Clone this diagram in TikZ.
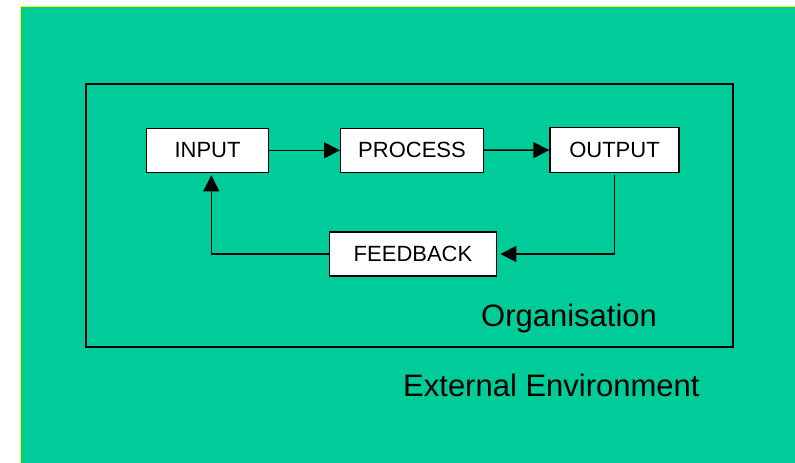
\documentclass[tikz,border=0pt]{standalone}
\usepackage{fontspec}
\setmainfont{Liberation Sans}
\usetikzlibrary{arrows.meta}
\definecolor{bg}{RGB}{0,204,153}
\definecolor{edge}{RGB}{255,255,0}
\begin{document}
\begin{tikzpicture}[x=1pt,y=-1pt,
  box/.style={draw=black,line width=1.4pt,fill=white,inner sep=0pt,font=\fontsize{22}{26}\selectfont},
  conn/.style={line width=1.4pt,-{Triangle[length=16pt,width=16pt]}},
  plain/.style={line width=1.4pt},
  big/.style={font=\fontsize{31}{36}\selectfont,inner sep=0pt,anchor=base west}]
\useasboundingbox (0,0) rectangle (795,463);
\fill[bg] (21,7) rectangle (795,463);
\draw[edge,line width=1.2pt] (20.6,463) -- (20.6,6.6) -- (795,6.6);
\draw[line width=1.6pt] (86,84) rectangle (733,347);
\node[box,minimum width=121.6pt,minimum height=44pt] (in) at (207.5,150.3) {INPUT};
\node[box,minimum width=142.6pt,minimum height=44pt] (pr) at (412,150.3) {PROCESS};
\node[box,minimum width=129pt,minimum height=44.5pt] (out) at (614.5,150) {OUTPUT};
\node[box,minimum width=167.4pt,minimum height=44.3pt] (fb) at (413,254) {FEEDBACK};
\node[big] (org) at (481,326) {Organisation};
\node[big] (env) at (403,396) {External Environment};
\coordinate (c1) at (211.3,254);
\coordinate (c2) at (211.3,172.3);
\draw[conn] (in) -- (pr);
\draw[conn] (pr) -- (out);
\draw[conn,shorten <=2.5pt,shorten >=3pt] (out.south) |- (fb.east);
\draw[plain] (fb.west) -- (c1);
\draw[conn,shorten >=3pt] (c1) -- (c2);
\end{tikzpicture}
\end{document}
